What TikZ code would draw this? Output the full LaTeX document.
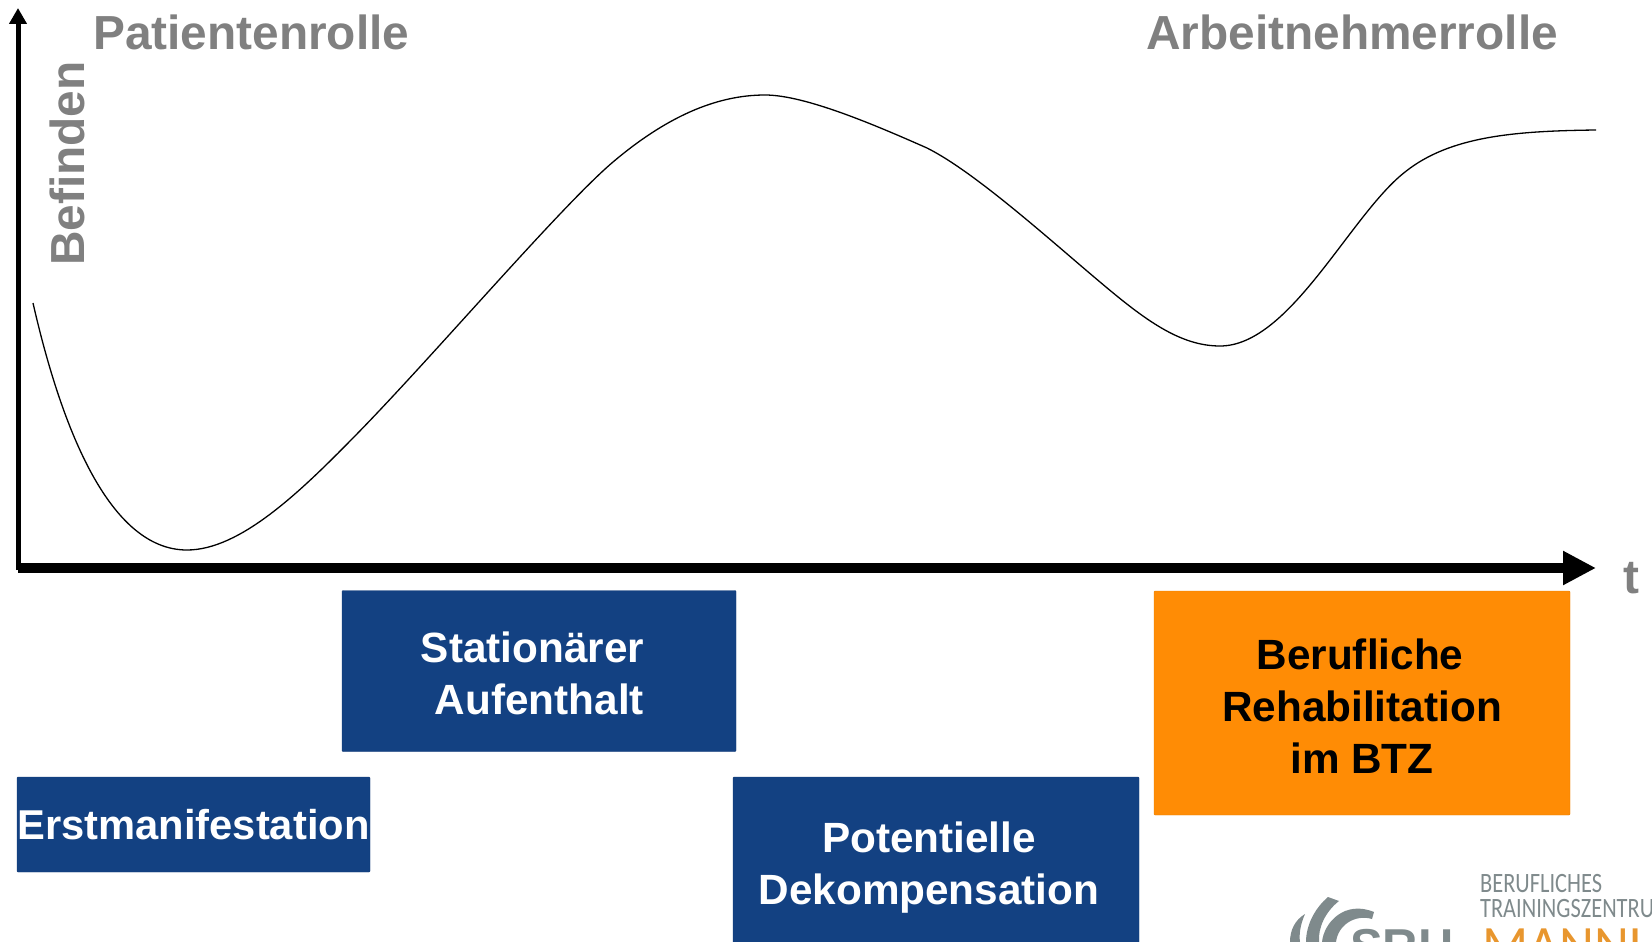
\documentclass[tikz,border=0pt]{standalone}
\usepackage{fontspec}
\setmainfont{Liberation Sans}
\newfontfamily\logofont{Carlito}
\usepackage{xcolor}
\usetikzlibrary{arrows.meta}
\definecolor{boxblue}{HTML}{134182}
\definecolor{boxorange}{HTML}{FF8C05}
\definecolor{rolegray}{HTML}{808080}
\definecolor{logogray}{HTML}{7F8A8C}
\definecolor{logoorange}{HTML}{E8962E}
\newcommand{\uplift}{\rule{0pt}{36pt}}
\tikzset{
    rolelabel/.style={text=rolegray, inner sep=0, anchor=base west, font=\bfseries\fontsize{47.8}{52}\selectfont},
    phase/.style={draw=boxblue!90!black, rectangle, rounded corners=1pt, fill=boxblue, text=white, inner sep=0, align=center, font=\bfseries\fontsize{42.3}{52}\selectfont},
    logotext/.style={text=logogray, inner sep=0, anchor=base west, xscale=0.8, font=\logofont\fontsize{28}{28}\selectfont},
}

\begin{document}
\begin{tikzpicture}[x=1pt, y=-1pt]
    \clip (0,0) rectangle (1652,942);

    \coordinate (origin) at (18,568);
    \coordinate (ytip) at (18,8);
    \coordinate (xtip) at (1596,568);

    \draw[line width=5pt, -{Triangle[length=16pt, width=17pt]}] (18,570) -- (ytip);
    \draw[line width=10pt, -{Triangle[length=33pt, width=32pt]}] (origin) -- (xtip);

    \draw[line width=1.3pt] (33,303) .. controls (62,430) and (110,550) .. (187,550)
        .. controls (240,550) and (300,492) .. (353,438)
        .. controls (430,360) and (560,207) .. (613,162)
        .. controls (665,118) and (715,95) .. (765,95)
        .. controls (805,95) and (875,125) .. (927,148)
        .. controls (975,172) and (1050,240) .. (1100,282)
        .. controls (1145,320) and (1180,346) .. (1220,346)
        .. controls (1290,346) and (1350,215) .. (1405,172)
        .. controls (1450,136) and (1515,131) .. (1596,130);

    \node[rolelabel] (patient) at (93,50) {Patientenrolle};
    \node[rolelabel] (worker) at (1146,50) {Arbeitnehmerrolle};
    \node[rolelabel, rotate=90] (mood) at (84,266) {Befinden};
    \node[rolelabel] (time) at (1623,593) {t};

    \node[phase, font=\bfseries\fontsize{41.7}{52}\selectfont, minimum width=353pt, minimum height=95pt] (first) at (193.5,824.5) {Erstmanifestation};
    \node[phase, minimum width=394pt, minimum height=161pt] (ward) at (539,671) {\uplift Stationärer\hspace*{13pt}\\ \hspace*{1pt}Aufenthalt};
    \node[phase, minimum width=406pt, minimum height=181pt] (crisis) at (936,867.5) {Potentielle\hspace*{14pt}\\Dekompensation\hspace*{14pt}};
    \node[phase, draw=boxorange!90!black, fill=boxorange, text=black, minimum width=416pt, minimum height=224pt] (rehab) at (1362,703) {\uplift Berufliche\hspace*{4pt}\\Rehabilitation\\im BTZ};

    % logo
    \fill[logogray] (1290,942) .. controls (1290,930) and (1295,920) .. (1305,914) .. controls (1300,925) and (1299,935) .. (1300,942) -- cycle;
    \fill[logogray] (1306,942) .. controls (1306,925) and (1315,908) .. (1328,897) -- (1339,901) .. controls (1325,912) and (1318,928) .. (1319,942) -- cycle;
    \fill[logogray] (1322,942) .. controls (1324,922) and (1345,900) .. (1374,912) -- (1372,919) .. controls (1355,914) and (1338,925) .. (1336,942) -- cycle;
    \node[logotext] (brandone) at (1480,892) {BERUFLICHES};
    \node[logotext] (brandtwo) at (1480,917) {TRAININGSZENTRU};
    \node[logotext, xscale=1.25, font=\bfseries\fontsize{49}{49}\selectfont] (srh) at (1350,963) {SRH};
    \node[logotext, text=logoorange, xscale=1.25, font=\logofont\fontsize{54}{54}\selectfont] (city) at (1482,963) {MANNH};
\end{tikzpicture}
\end{document}
